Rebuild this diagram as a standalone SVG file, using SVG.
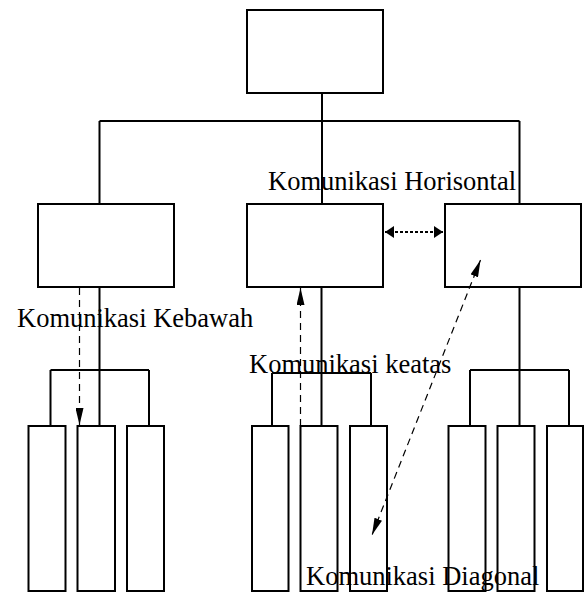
<svg xmlns="http://www.w3.org/2000/svg" width="584" height="592" viewBox="0 0 584 592">
<style>
.box{fill:#fff;stroke:#000;stroke-width:2}
.ln{fill:none;stroke:#000;stroke-width:2}
.dash{fill:none;stroke:#000;stroke-width:1.2;stroke-dasharray:7 5}
.dot{fill:none;stroke:#000;stroke-width:2;stroke-dasharray:3 2}
.lbl{font-family:"Liberation Serif","Times New Roman",serif;font-size:26.5px;fill:#000}
</style>
<defs>
<marker id="ah" markerUnits="userSpaceOnUse" markerWidth="18" markerHeight="8" refX="17" refY="4" orient="auto-start-reverse" viewBox="0 0 18 8">
<path d="M0,0 L17,4 L0,8 Z" fill="#000"/>
</marker>
<marker id="hh" markerUnits="userSpaceOnUse" markerWidth="9" markerHeight="12" refX="9" refY="6" orient="auto-start-reverse" viewBox="0 0 9 12">
<path d="M0,0 L9,6 L0,12 Z" fill="#000"/>
</marker>
</defs>
<g id="top"><rect class="box" x="247" y="10" width="136" height="83"/></g>
<g id="mid-left"><rect class="box" x="38" y="204" width="136" height="83"/></g>
<g id="mid-center"><rect class="box" x="247" y="204" width="136" height="83"/></g>
<g id="mid-right"><rect class="box" x="445" y="204" width="136" height="83"/></g>
<g id="bottom-left">
<rect class="box" x="28.5" y="426" width="37" height="165"/>
<rect class="box" x="77.5" y="426" width="37.5" height="165"/>
<rect class="box" x="127" y="426" width="37" height="165"/>
</g>
<g id="bottom-center">
<rect class="box" x="252" y="426" width="36.5" height="165"/>
<rect class="box" x="300.5" y="426" width="37" height="165"/>
<rect class="box" x="350" y="426" width="37" height="165"/>
</g>
<g id="bottom-right">
<rect class="box" x="448.5" y="426" width="37" height="165"/>
<rect class="box" x="497.5" y="426" width="37" height="165"/>
<rect class="box" x="547" y="426" width="36" height="165"/>
</g>
<g id="connectors">
<path class="ln" d="M322,93 V121 M99.5,121 H519.5 M99.5,121 V204 M322,121 V204 M519.5,121 V204"/>
<path class="ln" d="M99.5,287 V426 M50.5,370 H149 M50.5,370 V426 M149,370 V426"/>
<path class="ln" d="M321.5,287 V426 M272,373 H371 M272,373 V426 M371,373 V426"/>
<path class="ln" d="M519.5,287 V426 M470,370 H569 M470,370 V426 M569,370 V426"/>
<line class="dot" x1="385" y1="232" x2="443" y2="232" marker-start="url(#hh)" marker-end="url(#hh)"/>
<line class="dash" x1="79.5" y1="288" x2="79.5" y2="425" marker-end="url(#ah)"/>
<line class="dash" x1="300.5" y1="426" x2="300.5" y2="288" marker-end="url(#ah)"/>
<line class="dash" x1="480.5" y1="260" x2="372" y2="535" marker-start="url(#ah)" marker-end="url(#ah)"/>
</g>
<g id="labels">
<text class="lbl" x="268" y="190">Komunikasi Horisontal</text>
<text class="lbl" x="17" y="327">Komunikasi Kebawah</text>
<text class="lbl" x="249" y="373">Komunikasi keatas</text>
<text class="lbl" x="306" y="585">Komunikasi Diagonal</text>
</g>
</svg>
